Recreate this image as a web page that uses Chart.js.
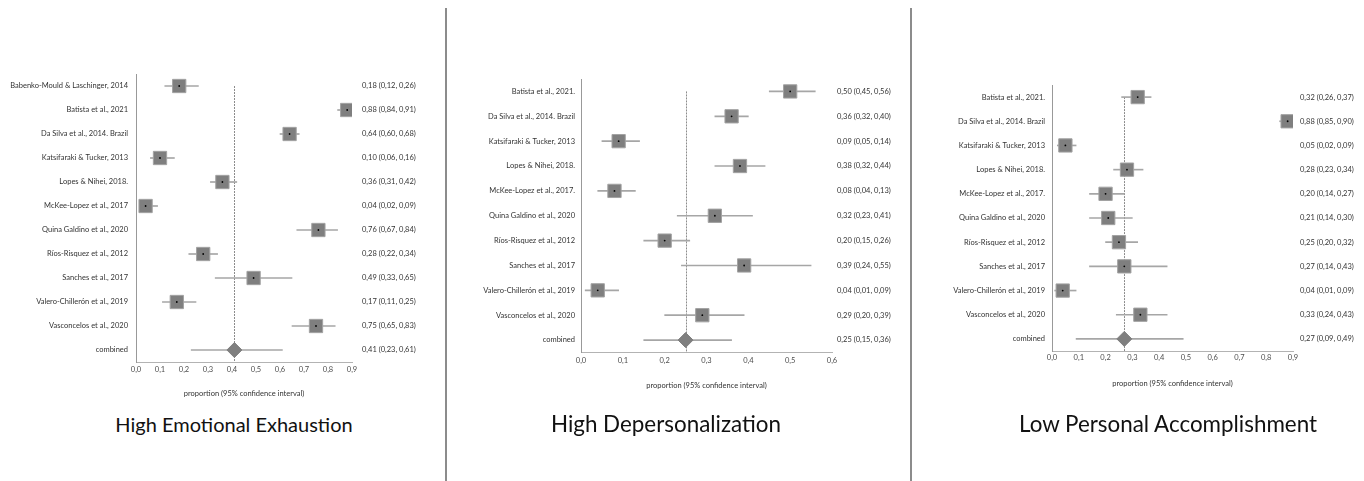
<!DOCTYPE html>
<html>
<head>
<meta charset="utf-8">
<title>Burnout prevalence forest plots</title>
<script src="https://cdn.jsdelivr.net/npm/chart.js@4.4.1/dist/chart.umd.min.js"></script>
<style>
  html, body { margin: 0; padding: 0; background: #fff; }
  body { width: 1364px; height: 481px; position: relative; overflow: hidden; font-family: Lato, 'Noto Sans', sans-serif; }
  .panel { position: absolute; top: 0; }
  .divider { position: absolute; top: 8px; bottom: 0; width: 2px; background: #8c8c8c; }
  .caption { position: absolute; top: 412px; width: 400px; text-align: center; font-size: 20px; line-height: 24px; color: #111; }
  .caption.wide { font-size: 22.4px; }
</style>
</head>
<body>
<div class="panel" style="left:0px"><canvas id="eeChart" width="446" height="398"></canvas></div>
<div class="panel" style="left:446px"><canvas id="dpChart" width="465" height="390"></canvas></div>
<div class="panel" style="left:911px"><canvas id="paChart" width="453" height="388"></canvas></div>

<div class="divider" style="left:445px"></div>
<div class="divider" style="left:910px"></div>

<div class="caption" style="left:34px">High Emotional Exhaustion</div>
<div class="caption wide" style="left:466px">High Depersonalization</div>
<div class="caption wide" style="left:968px">Low Personal Accomplishment</div>

<script>
// High Emotional Exhaustion
const eeStudies = [
    'Babenko-Mould & Laschinger, 2014',
    'Batista et al., 2021',
    'Da Silva et al., 2014. Brazil',
    'Katsifaraki & Tucker, 2013',
    'Lopes & Nihei, 2018.',
    'McKee-Lopez et al., 2017',
    'Quina Galdino et al., 2020',
    'Ríos-Risquez et al., 2012',
    'Sanches et al., 2017',
    'Valero-Chillerón et al., 2019',
    'Vasconcelos et al., 2020',
    'combined'
];
const eeEstimate = [0.18, 0.88, 0.64, 0.10, 0.36, 0.04, 0.76, 0.28, 0.49, 0.17, 0.75, 0.41];
const eeLower    = [0.12, 0.84, 0.60, 0.06, 0.31, 0.02, 0.67, 0.22, 0.33, 0.11, 0.65, 0.23];
const eeUpper    = [0.26, 0.91, 0.68, 0.16, 0.42, 0.09, 0.84, 0.34, 0.65, 0.25, 0.83, 0.61];
const eeTicks    = [0, 0.1, 0.2, 0.3, 0.4, 0.5, 0.6, 0.7, 0.8, 0.9];

// High Depersonalization
const dpStudies = [
    'Batista et al., 2021.',
    'Da Silva et al., 2014. Brazil',
    'Katsifaraki & Tucker, 2013',
    'Lopes & Nihei, 2018.',
    'McKee-Lopez et al., 2017.',
    'Quina Galdino et al., 2020',
    'Ríos-Risquez et al., 2012',
    'Sanches et al., 2017',
    'Valero-Chillerón et al., 2019',
    'Vasconcelos et al., 2020',
    'combined'
];
const dpEstimate = [0.50, 0.36, 0.09, 0.38, 0.08, 0.32, 0.20, 0.39, 0.04, 0.29, 0.25];
const dpLower    = [0.45, 0.32, 0.05, 0.32, 0.04, 0.23, 0.15, 0.24, 0.01, 0.20, 0.15];
const dpUpper    = [0.56, 0.40, 0.14, 0.44, 0.13, 0.41, 0.26, 0.55, 0.09, 0.39, 0.36];
const dpTicks    = [0, 0.1, 0.2, 0.3, 0.4, 0.5, 0.6];

// Low Personal Accomplishment
const paStudies = dpStudies.slice();
const paEstimate = [0.32, 0.88, 0.05, 0.28, 0.20, 0.21, 0.25, 0.27, 0.04, 0.33, 0.27];
const paLower    = [0.26, 0.85, 0.02, 0.23, 0.14, 0.14, 0.20, 0.14, 0.01, 0.24, 0.09];
const paUpper    = [0.37, 0.90, 0.09, 0.34, 0.27, 0.30, 0.32, 0.43, 0.09, 0.43, 0.49];
const paTicks    = eeTicks.slice();

const FONT = 'Lato, "Noto Sans", sans-serif';

// 0.25 -> "0,25"
function fmt(v, digits = 2) {
    return v.toFixed(digits).replace('.', ',');
}

// dotted vertical line at the pooled estimate
const pooledLine = {
    id: 'pooledLine',
    beforeDatasetsDraw(chart, args, opts) {
        const ctx = chart.ctx;
        const x = chart.scales.x.getPixelForValue(opts.value);
        const yTop = chart.scales.y.getPixelForValue(0);
        ctx.save();
        ctx.strokeStyle = '#8c8c8c';
        ctx.lineWidth = 1;
        ctx.setLineDash([2, 1]);
        ctx.beginPath();
        ctx.moveTo(Math.round(x) + 0.5, yTop);
        ctx.lineTo(Math.round(x) + 0.5, chart.chartArea.bottom);
        ctx.stroke();
        ctx.restore();
    }
};

function buildForest(canvasId, studies, est, lower, upper, ticks, geo) {
    const last = studies.length - 1; // pooled row
    const ciData = studies.map((s, i) => [lower[i], upper[i]]);
    const squareData = est.map((v, i) => (i === last ? null : v));
    const diamondData = est.map((v, i) => (i === last ? v : null));
    const valueLabels = est.map((v, i) => `${fmt(v)} (${fmt(lower[i])}, ${fmt(upper[i])})`);

    const ctx = document.getElementById(canvasId).getContext('2d');
    return new Chart(ctx, {
        type: 'bar',
        data: {
            labels: studies,
            datasets: [
                {
                    label: '95% CI',
                    data: ciData,
                    indexAxis: 'y',
                    backgroundColor: '#a6a6a6',
                    barThickness: 1,
                    order: 4
                },
                {
                    type: 'line',
                    label: 'study',
                    data: squareData,
                    indexAxis: 'y',
                    showLine: false,
                    pointStyle: 'rect',
                    pointRadius: 9.4,
                    backgroundColor: '#7f7f7f',
                    borderColor: '#a3a3a3',
                    borderWidth: 1,
                    order: 3
                },
                {
                    type: 'line',
                    label: 'combined',
                    data: diamondData,
                    indexAxis: 'y',
                    showLine: false,
                    pointStyle: 'rectRot',
                    pointRadius: 7.5,
                    backgroundColor: '#7f7f7f',
                    borderColor: '#7f7f7f',
                    borderWidth: 1,
                    order: 2
                },
                {
                    type: 'line',
                    label: 'centre',
                    data: squareData,
                    indexAxis: 'y',
                    showLine: false,
                    pointStyle: 'circle',
                    pointRadius: 0.9,
                    backgroundColor: '#000',
                    borderWidth: 0,
                    order: 1
                }
            ]
        },
        options: {
            indexAxis: 'y',
            responsive: false,
            animation: false,
            events: [],
            layout: { padding: { top: geo.top, left: 0, right: 0, bottom: 0 } },
            scales: {
                x: {
                    type: 'linear',
                    min: ticks[0],
                    max: ticks[ticks.length - 1],
                    afterBuildTicks: (scale) => { scale.ticks = ticks.map(v => ({ value: v })); },
                    afterFit: (scale) => { scale.height = geo.xHeight; },
                    grid: { display: false, drawTicks: false },
                    border: { display: true, color: '#b3b3b3', width: 1 },
                    ticks: {
                        padding: geo.tickPad,
                        color: '#4d4d4d',
                        font: { family: FONT, size: 7.5 },
                        maxRotation: 0,
                        callback: (v) => fmt(v, 1)
                    },
                    title: {
                        display: true,
                        text: 'proportion (95% confidence interval)',
                        color: '#333333',
                        padding: { top: 0, bottom: 0 },
                        font: { family: FONT, size: 7.5 }
                    }
                },
                y: {
                    type: 'category',
                    position: 'left',
                    offset: true,
                    afterFit: (scale) => { scale.width = geo.yWidth; },
                    grid: { display: false, drawTicks: false },
                    border: { display: true, color: '#999999', width: 1 },
                    ticks: {
                        padding: geo.labelPad,
                        color: '#333333',
                        font: { family: FONT, size: 7.5 }
                    }
                },
                values: {
                    type: 'category',
                    position: 'right',
                    labels: valueLabels,
                    offset: true,
                    afterFit: (scale) => { scale.width = geo.rWidth; },
                    grid: { display: false, drawTicks: false },
                    border: { display: false },
                    ticks: {
                        padding: geo.valuePad,
                        color: '#333333',
                        font: { family: FONT, size: 7.5 }
                    }
                }
            },
            plugins: {
                legend: { display: false },
                tooltip: { enabled: false },
                pooledLine: { value: est[last] }
            }
        },
        plugins: [pooledLine]
    });
}

document.addEventListener('DOMContentLoaded', () => {
    buildForest('eeChart', eeStudies, eeEstimate, eeLower, eeUpper, eeTicks,
        { top: 74, xHeight: 36, yWidth: 136, rWidth: 94, labelPad: 8, valuePad: 10, tickPad: 3 });
    buildForest('dpChart', dpStudies, dpEstimate, dpLower, dpUpper, dpTicks,
        { top: 79, xHeight: 37.5, yWidth: 135, rWidth: 79, labelPad: 6, valuePad: 5, tickPad: 4 });
    buildForest('paChart', paStudies, paEstimate, paLower, paUpper, paTicks,
        { top: 85, xHeight: 37, yWidth: 141, rWidth: 71, labelPad: 7, valuePad: 7, tickPad: 2.5 });
});
</script>
</body>
</html>
